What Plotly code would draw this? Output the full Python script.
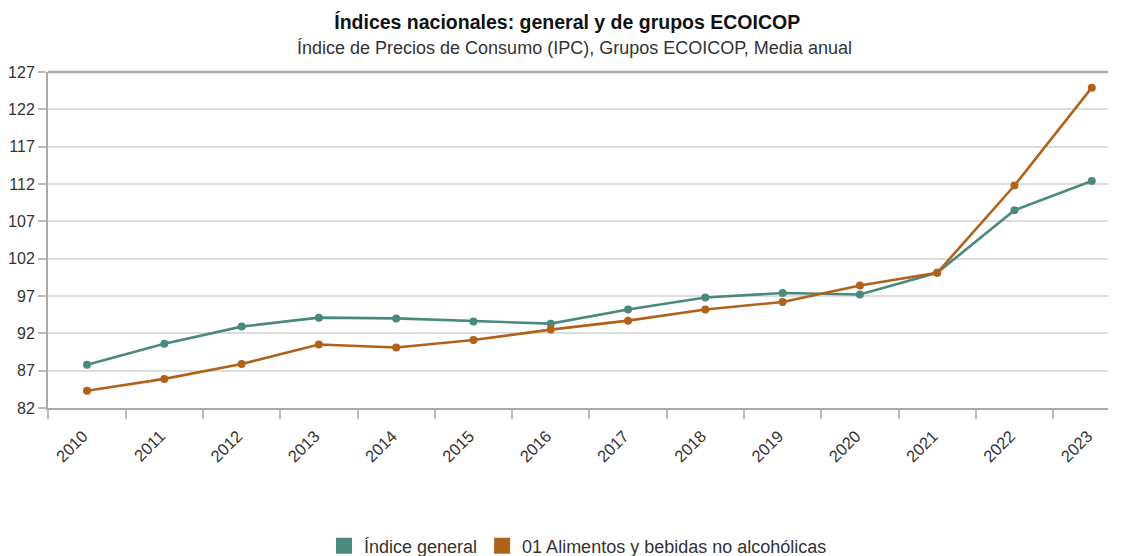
import plotly.graph_objects as go

years = ["2010", "2011", "2012", "2013", "2014", "2015", "2016", "2017",
         "2018", "2019", "2020", "2021", "2022", "2023"]
indice_general = [87.8, 90.6, 92.9, 94.1, 94.0, 93.6, 93.3, 95.2, 96.8, 97.4, 97.2, 100.1, 108.5, 112.4]
alimentos = [84.3, 85.9, 87.9, 90.5, 90.1, 91.1, 92.5, 93.7, 95.2, 96.2, 98.4, 100.1, 111.8, 124.9]
series_names = ["Índice general", "01 Alimentos y bebidas no alcohólicas"]
colors = ["#4a8a7e", "#b0621a"]
yticks = [82, 87, 92, 97, 102, 107, 112, 117, 122, 127]

fig = go.Figure()
for name, vals, col in zip(series_names, [indice_general, alimentos], colors):
    fig.add_trace(go.Scatter(x=years, y=vals, name=name, mode="lines+markers",
                             line=dict(color=col, width=2.6),
                             marker=dict(color=col, size=8),
                             showlegend=False))
for name, col in zip(series_names, colors):
    fig.add_trace(go.Scatter(x=[None], y=[None], name=name, mode="markers",
                             marker=dict(color=col, size=21, symbol="square"),
                             showlegend=True))

font_family = "Arial, Liberation Sans, sans-serif"
fig.update_layout(
    width=1121, height=556,
    margin=dict(l=48, r=13, t=72, b=148, autoexpand=False),
    paper_bgcolor="white", plot_bgcolor="white",
    font=dict(family=font_family, size=15, color="#333"),
    title=dict(text="<b>Índices nacionales: general y de grupos ECOICOP</b>",
               xref="container", x=0.506, xanchor="center",
               yref="container", y=1 - 22 / 556, yanchor="middle",
               font=dict(size=19.5, color="#111")),
    annotations=[dict(text="Índice de Precios de Consumo (IPC), Grupos ECOICOP, Media anual",
                      xref="paper", yref="paper", x=0.497, y=1 + (72 - 48) / 336,
                      xanchor="center", yanchor="middle", showarrow=False,
                      font=dict(size=18, color="#333"))],
    legend=dict(orientation="h", xanchor="center", x=0.5, yanchor="middle",
                y=-(546 - 408) / 336, font=dict(size=18, color="#333"),
                itemwidth=30, tracegroupgap=0),
    showlegend=True,
)
fig.update_xaxes(type="category", range=[-0.505, 13.21], automargin=False,
                 tickangle=-45, tickson="boundaries",
                 ticks="outside", ticklen=9, tickcolor="#bbb", tickwidth=2,
                 ticklabelstandoff=10, ticklabelshift=-4,
                 showline=True, linecolor="#aaa", linewidth=2,
                 showgrid=False, tickfont=dict(size=16.5, color="#333"))
fig.update_yaxes(range=[82, 127], tickvals=yticks, ticktext=[str(v) for v in yticks],
                 automargin=False,
                 ticks="outside", ticklen=8, tickcolor="#bbb", tickwidth=2,
                 showline=True, linecolor="#aaa", linewidth=2,
                 showgrid=True, gridcolor="#ddd", gridwidth=1.5,
                 zeroline=False, tickfont=dict(size=16, color="#333"))
fig.add_shape(type="line", xref="paper", yref="paper", x0=0, x1=1, y0=1, y1=1,
              line=dict(color="#aaa", width=2.5))
fig.write_html("out.html", config={"displayModeBar": False},
               post_script="document.body.style.margin='0';document.body.style.overflow='hidden';")
